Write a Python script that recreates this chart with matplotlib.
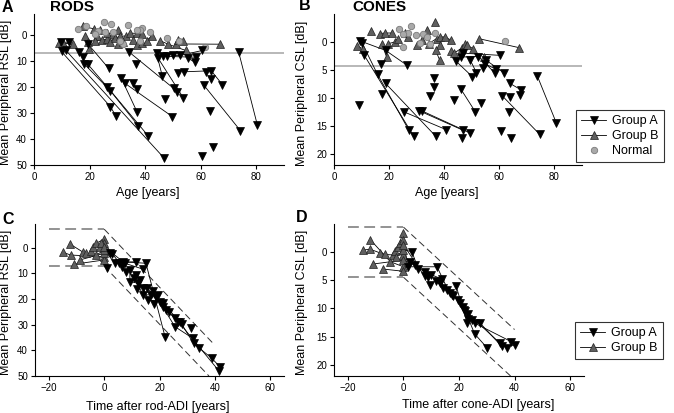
import matplotlib
matplotlib.use('Agg')
import matplotlib.pyplot as plt
from matplotlib.lines import Line2D

plt.rcParams['font.family'] = ['Liberation Sans', 'DejaVu Sans']

# ---------------- Panel A: rods vs age ----------------
# each inner list is one patient, points (age, RSL)
rods_groupA = [
    [(9.6, 2.9), (12.7, 2.8)],
    [(9.9, 6.4), (27.5, 27.6), (29.5, 31.2)],
    [(11.5, 6.0), (46.8, 47.3)],
    [(16.3, 6.7), (17.7, 8.7)],
    [(18.1, 11.2), (27.5, 21.5), (37.5, 34.9)],
    [(19.3, 11.2), (26.3, 19.9), (41.1, 38.8)],
    [(19.5, 3.6), (26.9, 12.9)],
    [(31.3, 16.4), (37.1, 29.6)],
    [(32.7, 18.6), (49.8, 31.4)],
    [(35.7, 18.6), (37.1, 20.9)],
    [(34.1, 6.5), (50.3, 20.6), (51.3, 21.9)],
    [(36.6, 11.2)],
    [(44.1, 7.1), (46.2, 15.9)],
    [(44.7, 9.0), (53.7, 24.1)],
    [(46.5, 8.3), (47.7, 8.3), (58.4, 8.6)],
    [(50.0, 7.9), (52.7, 7.9), (60.6, 6.0)],
    [(55.4, 9.0), (58.1, 10.6)],
    [(47.2, 24.5)],
    [(51.9, 14.7)],
    [(54.0, 14.2), (63.8, 13.8), (67.8, 19.1)],
    [(61.8, 14.2)],
    [(63.8, 16.8)],
    [(61.2, 19.4), (74.3, 36.8)],
    [(63.5, 29.2)],
    [(60.6, 46.4)],
    [(64.4, 42.9)],
    [(73.7, 6.7), (80.4, 34.6)],
]
rods_groupB = [
    [(8.9, 3.2), (10.5, 3.2), (14.1, 3.6)],
    [(17.5, -3.2), (21.7, -2.3)],
    [(18.3, 0.4), (19.5, 2.6)],
    [(19.9, 5.5)],
    [(22.5, 0.6), (23.7, -1.7)],
    [(21.9, 2.3), (24.3, 1.9), (26.3, 1.7)],
    [(26.3, -0.6), (28.3, -0.4), (30.3, -1.9)],
    [(27.3, 2.6), (29.1, 1.3), (30.9, 0.6), (33.3, 0.4)],
    [(30.3, 3.7), (32.1, 2.8)],
    [(34.5, -0.6), (36.9, -0.6), (39.0, -0.4)],
    [(35.7, 1.9), (37.1, 4.0), (39.0, 3.2)],
    [(40.5, 2.2), (42.5, 0.4)],
    [(45.5, 2.3), (48.3, 3.6), (54.6, 6.0)],
    [(51.0, 3.5), (67.1, 3.6)],
    [(51.9, 1.9), (53.7, 2.2)],
]
rods_normal_age = [15.7, 18.6, 25.2, 27.8, 33.7, 38.7, 38.2, 41.8, 47.7, 52.1,
                   61.5, 23.1, 25.4, 28.4, 32.2, 36.9, 38.1, 30.9, 21.9]
rods_normal_rsl = [-2.2, -3.2, -4.8, -4.1, -3.7, -2.6, -1.9, -0.9, 1.4, 2.3,
                   4.7, -1.6, -0.9, -0.9, 3.4, -1.9, 2.2, 2.2, -0.3]
rods_limit = 7.05

# ---------------- Panel B: cones vs age ----------------
cones_groupA = [
    [(9.4, -0.2), (18.7, 1.5), (26.6, 4.2)],
    [(10.2, 0.2), (15.8, 5.8), (27.2, 15.8)],
    [(11.0, 2.4), (29.0, 16.9)],
    [(17.0, 3.9)],
    [(9.2, 11.2)],
    [(17.5, 9.3)],
    [(18.7, 7.4), (37.0, 16.9)],
    [(25.4, 12.5), (40.8, 15.7)],
    [(30.9, 12.3), (46.9, 15.8)],
    [(31.8, 12.3), (49.5, 16.3)],
    [(35.0, 9.7)], [(36.4, 8.0)], [(36.4, 6.5)],
    [(43.5, 10.4)],
    [(46.0, 8.4), (51.3, 12.5)],
    [(46.6, 17.1)],
    [(53.5, 10.9)],
    [(44.2, 3.4), (50.2, 6.2)],
    [(46.9, 2.0), (60.4, 2.4)],
    [(46.0, 2.7), (52.4, 2.6), (58.3, 5.5)],
    [(49.5, 3.3), (51.7, 5.5)],
    [(53.9, 4.7), (54.7, 3.9), (58.9, 4.9)],
    [(55.3, 3.3), (61.6, 5.5)],
    [(61.0, 9.6), (74.6, 16.5)],
    [(63.8, 7.4), (68.0, 8.6), (67.6, 9.5)],
    [(63.8, 9.8)], [(63.4, 12.6)], [(60.5, 16.0)], [(64.4, 17.1)],
    [(73.8, 6.1), (80.7, 14.5)],
]
cones_groupB = [
    [(8.5, 0.8), (10.6, 1.2)],
    [(13.6, -2.0)],
    [(16.7, -1.5), (18.5, -1.6), (20.9, -1.6)],
    [(17.3, 0.3), (19.1, 2.7)],
    [(19.7, 0.3), (22.1, 0.0), (23.3, -0.6)],
    [(25.7, -1.6), (26.9, -0.9)],
    [(30.2, 0.6), (31.8, -0.4), (33.6, -2.1)],
    [(34.4, 0.3), (37.2, -0.6)],
    [(36.8, -3.6)],
    [(38.4, -0.9), (40.2, -0.9), (42.6, -0.3)],
    [(38.4, 0.5)],
    [(36.9, 1.5), (38.4, 3.3)],
    [(42.6, 1.6), (43.6, 2.0), (46.3, 1.1)],
    [(47.5, 0.3), (48.3, 0.6), (50.5, 1.2)],
    [(52.5, -0.6), (67.0, 1.0)],
    [(54.3, 2.6)],
]
cones_normal_age = [23.7, 28.1, 26.9, 29.9, 32.4, 36.6, 24.9, 31.2, 34.8, 62.2, 25.1, 33.6]
cones_normal_csl = [-2.4, -2.8, -1.6, -1.2, -1.5, -1.6, 0.9, 0.2, 0.3, -0.2, -1.5, -0.9]
cones_limit = 4.3

# ---------------- Panel C: rods vs time after rod-ADI ----------------
# points with time <= 0 are Group B, > 0 Group A
rods_adi = [
    [(-12.2, -1.3), (-7.6, 1.8), (-6.4, 1.9)],
    [(-14.9, 1.8), (-12.1, 2.9), (0.0, 3.5), (2.1, 2.2)],
    [(-11.0, 6.5), (0.0, 4.8), (1.1, 8.1)],
    [(-8.8, 4.8), (0.0, 2.2), (3.0, 2.6)],
    [(-4.8, 1.3), (-4.0, -0.1), (-3.0, -1.7), (0.0, -3.2)],
    [(-2.8, 2.9), (0.0, 0.9), (3.9, 6.1), (6.9, 5.5), (15.1, 6.1), (22.0, 34.7)],
    [(-1.6, -0.4), (0.0, -1.7), (5.4, 5.8), (11.5, 5.5)],
    [(-1.0, -1.7), (0.0, -0.4), (7.5, 6.1), (14.1, 8.4)],
    [(9.3, 8.7), (9.3, 13.2), (12.3, 13.9), (14.1, 15.8), (16.0, 20.4), (20.2, 21.0),
     (22.4, 24.3), (25.6, 27.5), (26.8, 28.8), (41.4, 47.9)],
    [(10.8, 11.9), (14.1, 18.4), (16.8, 18.4), (21.4, 21.7), (28.1, 29.9), (32.3, 37.3),
     (38.9, 43.1), (42.0, 46.6)],
    [(15.4, 15.8), (18.7, 19.1), (21.2, 23.2), (25.6, 30.8), (32.0, 35.3), (34.4, 39.2)],
    [(31.3, 31.2)],
    [(6.5, 7.5)], [(8.0, 9.5)], [(11.5, 10.5)], [(13.0, 12.5)], [(17.5, 17.0)],
    [(19.5, 18.5)], [(23.5, 25.0)], [(27.5, 29.0)], [(12.0, 16.0)], [(18.0, 22.0)],
]
rods_band = 7.2
rods_slope = 1.13

# ---------------- Panel D: cones vs time after cone-ADI ----------------
cones_adi = [
    [(-11.9, -2.2), (-4.7, 1.7), (0.0, 2.6), (12.1, 2.6), (16.6, 7.3)],
    [(-14.4, -0.4), (-11.9, -0.5), (-8.6, 0.1), (-6.8, 0.4), (-3.8, 0.5), (0.0, 0.5)],
    [(-10.8, 2.1), (0.0, 1.4), (4.0, 2.3), (7.9, 3.6), (9.4, 5.8)],
    [(-7.4, 3.0), (0.0, 3.4), (2.2, 1.7)],
    [(-3.0, -0.2), (-2.0, -1.0), (-1.4, -1.6), (-0.2, -3.4)],
    [(-2.6, 0.8), (0.0, -0.4), (3.0, -0.1), (5.4, 3.0)],
    [(0.0, -2.2), (1.6, 2.6)],
    [(0.0, -1.3), (7.6, 4.3), (10.0, 4.0), (13.9, 4.8), (14.2, 6.4)],
    [(11.8, 5.2), (17.4, 7.7), (19.6, 8.5), (20.2, 9.0), (21.4, 9.8), (23.2, 10.9),
     (34.6, 16.1), (37.1, 17.0)],
    [(19.0, 6.1), (22.9, 12.5)],
    [(21.7, 10.3), (23.4, 11.8), (25.6, 14.5), (30.1, 17.0)],
    [(25.6, 12.6), (38.8, 15.9)],
    [(27.4, 12.5), (35.3, 16.7), (40.3, 16.5)],
    [(15.5, 6.8)], [(18.0, 7.8)], [(13.0, 5.5)], [(9.0, 4.5)], [(24.5, 12.0)], [(22.0, 10.5)],
]
cones_band = 4.45
cones_slope = 0.455

# ---------------- styles ----------------
A_STYLE = dict(marker='v', ms=5.2, mfc='black', mec='black', mew=0.5)
B_STYLE = dict(marker='^', ms=5.2, mfc='#5f5f5f', mec='#202020', mew=0.5)
N_STYLE = dict(marker='o', ms=4.6, mfc='#a9a9a9', mec='#7a7a7a', mew=0.6)
LINE = dict(color='black', lw=0.6)

W, H = 674, 413
fig = plt.figure(figsize=(W / 100, H / 100), dpi=100)


def make_ax(l, r, t, b):
    ax = fig.add_axes([l / W, 1 - b / H, (r - l) / W, (b - t) / H])
    for s in ['top', 'right']:
        ax.spines[s].set_visible(False)
    for s in ['left', 'bottom']:
        ax.spines[s].set_linewidth(0.8)
    ax.tick_params(direction='out', length=3, width=0.8, labelsize=7, pad=2)
    return ax


def draw_tracks(ax, tracks, style):
    for tr in tracks:
        xs = [p[0] for p in tr]
        ys = [p[1] for p in tr]
        if len(tr) > 1:
            ax.plot(xs, ys, **LINE, zorder=2)
    for tr in tracks:
        xs = [p[0] for p in tr]
        ys = [p[1] for p in tr]
        ax.plot(xs, ys, ls='none', **style, zorder=3)


def draw_adi(ax, tracks):
    for tr in tracks:
        if len(tr) > 1:
            ax.plot([p[0] for p in tr], [p[1] for p in tr], **LINE, zorder=2)
    bx = [p[0] for tr in tracks for p in tr if p[0] <= 0]
    by = [p[1] for tr in tracks for p in tr if p[0] <= 0]
    axx = [p[0] for tr in tracks for p in tr if p[0] > 0]
    ayy = [p[1] for tr in tracks for p in tr if p[0] > 0]
    ax.plot(bx, by, ls='none', **B_STYLE, zorder=3)
    ax.plot(axx, ayy, ls='none', **A_STYLE, zorder=4)


def draw_band(ax, band, slope, ybottom):
    ax.plot([-20, 0], [-band, -band], color='#8a8a8a', lw=1.3, dashes=(6, 3), zorder=1)
    ax.plot([-20, 0], [band, band], color='#8a8a8a', lw=1.3, dashes=(6, 3), zorder=1)
    x_end = 40
    ax.plot([0, x_end], [-band, -band + slope * x_end], color='#303030', lw=0.7,
            dashes=(7, 4), zorder=1)
    x_low = (ybottom - band) / slope
    ax.plot([0, x_low], [band, ybottom], color='#303030', lw=0.7, dashes=(7, 4), zorder=1)


# Panel A
axA = make_ax(34, 284, 14, 165)
axA.axhline(rods_limit, color='#b8b8b8', lw=1.4, zorder=1)
draw_tracks(axA, rods_groupB, B_STYLE)
axA.plot(rods_normal_age, rods_normal_rsl, ls='none', **N_STYLE, zorder=3)
draw_tracks(axA, rods_groupA, A_STYLE)
axA.set_xlim(0, 90)
axA.set_ylim(50, -8)
axA.set_xticks([0, 20, 40, 60, 80])
axA.set_yticks([0, 10, 20, 30, 40, 50])

# Panel B
axB = make_ax(334, 582, 14, 165)
axB.axhline(cones_limit, color='#b8b8b8', lw=1.4, zorder=1)
draw_tracks(axB, cones_groupB, B_STYLE)
axB.plot(cones_normal_age, cones_normal_csl, ls='none', **N_STYLE, zorder=3)
draw_tracks(axB, cones_groupA, A_STYLE)
axB.set_xlim(0, 90)
axB.set_ylim(22, -5)
axB.set_xticks([0, 20, 40, 60, 80])
axB.set_yticks([0, 5, 10, 15, 20])

# Panel C
axC = make_ax(35, 284, 224, 376)
draw_band(axC, rods_band, rods_slope, 50)
draw_adi(axC, rods_adi)
axC.set_xlim(-25, 65)
axC.set_ylim(50, -9.2)
axC.set_xticks([-20, 0, 20, 40, 60])
axC.set_yticks([0, 10, 20, 30, 40, 50])

# Panel D
axD = make_ax(334, 584, 224, 376)
draw_band(axD, cones_band, cones_slope, 22)
draw_adi(axD, cones_adi)
axD.set_xlim(-25, 65)
axD.set_ylim(22, -5)
axD.set_xticks([-20, 0, 20, 40, 60])
axD.set_yticks([0, 5, 10, 15, 20])

# texts
def ftext(px, py, s, **kw):
    fig.text(px / W, 1 - py / H, s, **kw)

ftext(2, 7, 'A', fontsize=11.5, fontweight='bold', va='center')
ftext(50, 7, 'RODS', fontsize=11, fontweight='bold', va='center')
ftext(299, 6, 'B', fontsize=11.5, fontweight='bold', va='center')
ftext(352, 7, 'CONES', fontsize=11, fontweight='bold', va='center')
ftext(2, 219, 'C', fontsize=11.5, fontweight='bold', va='center')
ftext(296, 218, 'D', fontsize=11.5, fontweight='bold', va='center')

ftext(6, 92, 'Mean Peripheral RSL [dB]', fontsize=9, rotation=90, ha='center', va='center')
ftext(302, 93, 'Mean Peripheral CSL [dB]', fontsize=9, rotation=90, ha='center', va='center')
ftext(6, 302, 'Mean Peripheral RSL [dB]', fontsize=9, rotation=90, ha='center', va='center')
ftext(302, 302, 'Mean Peripheral CSL [dB]', fontsize=9, rotation=90, ha='center', va='center')

ftext(147.5, 193, 'Age [years]', fontsize=9, ha='center', va='center')
ftext(446.5, 193, 'Age [years]', fontsize=9, ha='center', va='center')
ftext(157.5, 407, 'Time after rod-ADI [years]', fontsize=9, ha='center', va='center')
ftext(478, 405, 'Time after cone-ADI [years]', fontsize=9, ha='center', va='center')

# legends
hA = Line2D([], [], **LINE, **A_STYLE)
hB = Line2D([], [], **LINE, **B_STYLE)
hN = Line2D([], [], ls='none', **N_STYLE)
leg_kw = dict(loc='upper left', fontsize=9, frameon=True, fancybox=False,
              edgecolor='black', borderaxespad=0, handlelength=2.0,
              labelspacing=0.25, borderpad=0.4, handletextpad=0.5)
l1 = fig.legend([hA, hB, hN], ['Group A', 'Group B', 'Normal'],
                bbox_to_anchor=(576 / W, 1 - 110 / H), **leg_kw)
l1.get_frame().set_linewidth(0.8)
l2 = fig.legend([hA, hB], ['Group A', 'Group B'],
                bbox_to_anchor=(575 / W, 1 - 322 / H), **leg_kw)
l2.get_frame().set_linewidth(0.8)

fig.savefig('out.png', dpi=100)
